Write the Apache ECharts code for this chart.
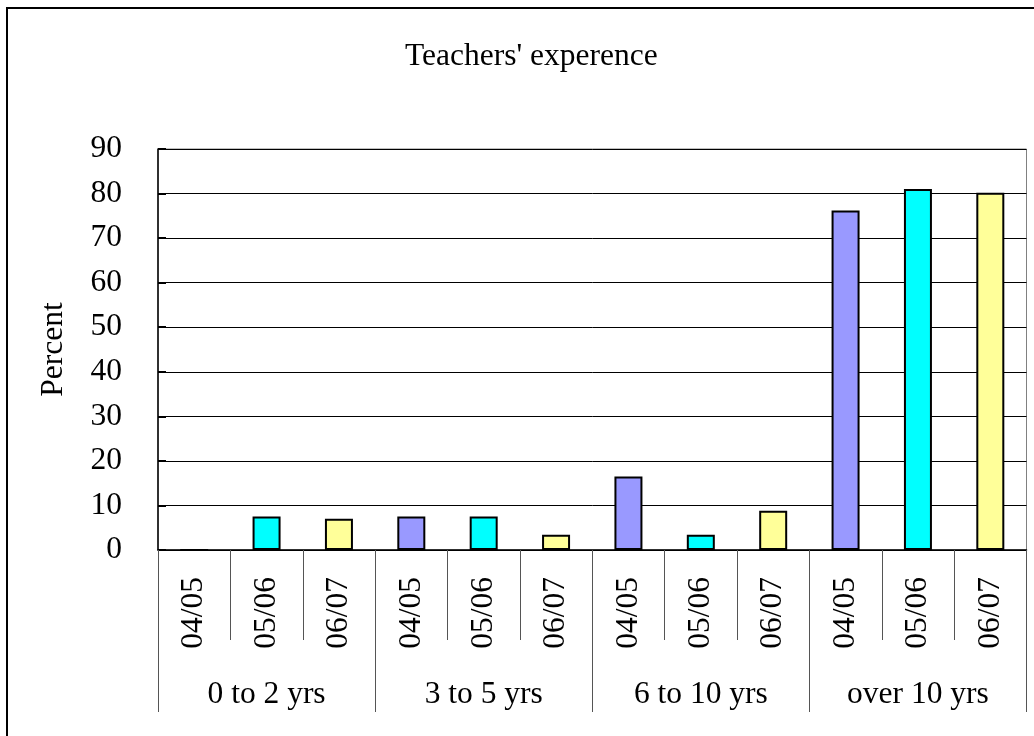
<!DOCTYPE html>
<html>
<head>
<meta charset="utf-8">
<script src="https://cdn.jsdelivr.net/npm/echarts@6/dist/echarts.min.js"></script>
<style>
  html, body { margin: 0; padding: 0; background: #fff; }
  #main { width: 1034px; height: 736px; }
</style>
</head>
<body>
<div id="main"></div>
<script>
// data
var groups = ['0 to 2 yrs', '3 to 5 yrs', '6 to 10 yrs', 'over 10 yrs']
var years = ['04/05', '05/06', '06/07']
var y0405 = [0, 7.5, 16.5, 76.2]
var y0506 = [7.5, 7.5, 3.4, 81.0]
var y0607 = [7.0, 3.4, 8.8, 80.2]
var yearColors = ['#9999FF', '#00FFFF', '#FFFF99']

var font = 'Liberation Serif'
var fs = 31.5
var mychart = echarts.init(document.getElementById('main'))

// one slot per (group, year); each series only fills its own year's slots
var cats = []
groups.forEach(function () { years.forEach(function (y) { cats.push(y) }) })
var valuesByYear = [y0405, y0506, y0607]
var series = years.map(function (y, yi) {
  var data = []
  groups.forEach(function (g, gi) {
    years.forEach(function (yy, k) {
      data.push(k === yi ? valuesByYear[yi][gi] : '-')
    })
  })
  return {
    name: y,
    type: 'bar',
    barWidth: 28,
    barGap: '-100%',
    itemStyle: { color: yearColors[yi], borderColor: '#000', borderWidth: 2 },
    data: data
  }
})

var option = {
  animation: false,
  title: {
    text: "Teachers' experence",
    left: 400,
    top: 36,
    textStyle: { fontFamily: font, fontSize: fs, fontWeight: 'normal', color: '#000' }
  },
  graphic: [{
    type: 'rect',
    shape: { x: 7, y: 8, width: 1040, height: 740 },
    style: { fill: 'none', stroke: '#000', lineWidth: 2 },
    silent: true
  }],
  grid: {
    left: 158, right: 7.5, top: 149, bottom: 186,
    show: true, borderColor: '#808080', borderWidth: 1
  },
  xAxis: [
    {
      type: 'category',
      data: cats,
      axisLine: { lineStyle: { color: '#000', width: 1.5 } },
      axisTick: { show: true, interval: 0, length: 90, lineStyle: { color: '#555' } },
      axisLabel: {
        interval: 0, rotate: 90, margin: 27,
        fontFamily: font, fontSize: fs, color: '#000'
      }
    },
    {
      type: 'category',
      position: 'bottom',
      data: groups,
      axisLine: { show: false },
      axisTick: { show: true, interval: 0, length: 162, lineStyle: { color: '#555' } },
      axisLabel: {
        interval: 0, margin: 129,
        fontFamily: font, fontSize: fs, color: '#000'
      }
    }
  ],
  yAxis: {
    type: 'value',
    min: 0, max: 90, interval: 10,
    name: 'Percent',
    nameLocation: 'middle',
    nameRotate: 90,
    nameGap: 88,
    nameTextStyle: { fontFamily: font, fontSize: fs, color: '#000' },
    axisLine: { show: true, lineStyle: { color: '#000', width: 1.5 } },
    axisTick: { show: true, inside: true, length: 8, lineStyle: { color: '#000', width: 2 } },
    axisLabel: { margin: 36, fontFamily: font, fontSize: fs, color: '#000' },
    splitLine: { lineStyle: { color: '#000', width: 1 } }
  },
  series: series
}
mychart.setOption(option)
</script>
</body>
</html>
